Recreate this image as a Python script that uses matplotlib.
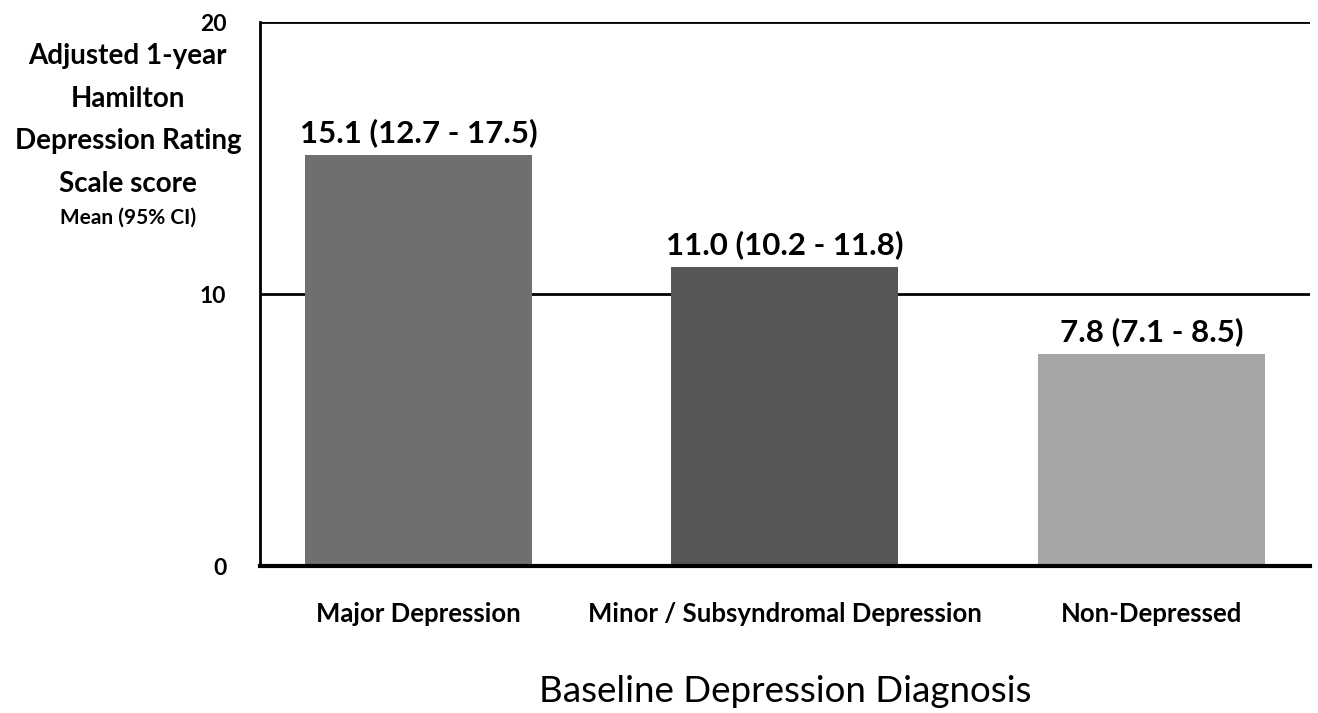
import matplotlib
matplotlib.use('Agg')
import matplotlib.pyplot as plt

plt.rcParams['font.family'] = ['Lato', 'DejaVu Sans']

categories = ['Major Depression', 'Minor / Subsyndromal Depression', 'Non-Depressed']
means = [15.1, 11.0, 7.8]
ci_low = [12.7, 10.2, 7.1]
ci_high = [17.5, 11.8, 8.5]
bar_colors = ['#6f6f6f', '#565656', '#a6a6a6']
y_ticks = [0, 10, 20]

fig = plt.figure(figsize=(13.18, 7.13), dpi=100)
ax = fig.add_axes([0.197, 0.206, 0.797, 0.763])

x = list(range(len(categories)))

# horizontal reference lines sit behind the bars
for yv in y_ticks[1:]:
    ax.axhline(yv, color='black', lw=2, zorder=1)

ax.bar(x, means, width=0.62, color=bar_colors, zorder=2)

for xi, m, lo, hi in zip(x, means, ci_low, ci_high):
    ax.text(xi, m + 0.3, f'{m:.1f} ({lo:.1f} - {hi:.1f})', ha='center', va='bottom',
            fontsize=22.5, fontweight='bold')

ax.set_xlim(-0.433, 2.433)
ax.set_ylim(0, 20)
ax.set_yticks(y_ticks)
ax.set_yticklabels([str(v) for v in y_ticks], fontsize=16.5, fontweight='bold')
ax.set_xticks(x)
ax.set_xticklabels(categories, fontsize=18.5, fontweight='bold')
ax.tick_params(axis='both', length=0)
ax.tick_params(axis='y', pad=24)
ax.tick_params(axis='x', pad=26)

for s in ['top', 'right']:
    ax.spines[s].set_visible(False)
ax.spines['left'].set_linewidth(2)
ax.spines['bottom'].set_linewidth(3)

ax.set_xlabel('Baseline Depression Diagnosis', fontsize=26.5, labelpad=35)

fig.text(0.097, 0.94, 'Adjusted 1-year\nHamilton\nDepression Rating\nScale score',
         ha='center', va='top', fontsize=20, fontweight='bold', linespacing=1.8)
fig.text(0.097, 0.695, 'Mean (95% CI)', ha='center', va='center', fontsize=15, fontweight='bold')

fig.savefig('out.png', dpi=100)
